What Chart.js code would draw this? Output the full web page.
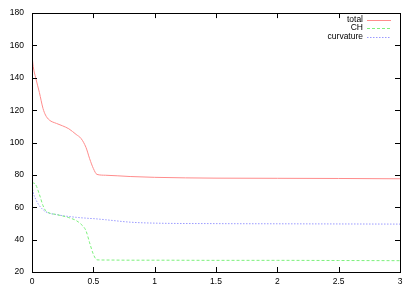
<!DOCTYPE html>
<html>
<head>
<meta charset="utf-8">
<script src="https://cdn.jsdelivr.net/npm/chart.js@4/dist/chart.umd.min.js"></script>
<style>
  html, body { margin: 0; padding: 0; background: #fff; }
  #wrap { width: 414px; height: 290px; }
</style>
</head>
<body>
<div id="wrap"><canvas id="c" width="414" height="290"></canvas></div>
<script>
// x positions sampled along the curves
const xVals = [0, 0.01, 0.03, 0.06, 0.09, 0.11, 0.14, 0.2, 0.25, 0.3, 0.36, 0.4, 0.44, 0.47, 0.5, 0.53, 0.6, 0.8, 1, 1.5, 2, 2.5, 3];

const totalVals = [154, 147, 140, 131, 121, 117, 114, 111.8, 110.3, 108.5, 105, 102.5, 97, 90, 84, 80.3, 79.8, 79, 78.5, 78, 77.9, 77.8, 77.6];
const chVals = [75, 75, 74, 68, 61, 58, 56.5, 55.5, 54.6, 53.6, 51.8, 49.5, 45.5, 38, 31, 27.5, 27.4, 27.3, 27.3, 27.2, 27.2, 27.1, 27];
const curvVals = [73, 69, 65, 61, 58.5, 57.3, 56.3, 55.5, 54.8, 54.3, 53.8, 53.5, 53.3, 53.1, 53, 52.8, 52.3, 50.8, 50.2, 49.9, 49.8, 49.7, 49.6];

const seriesNames = ['total', 'CH', 'curvature'];
const xTicks = [0, 0.5, 1, 1.5, 2, 2.5, 3];
const yTicks = [20, 40, 60, 80, 100, 120, 140, 160, 180];

const FONT = '"Liberation Sans", Arial, sans-serif';
const FSIZE = 8.5;

const toPts = ys => ys.map((y, i) => ({ x: xVals[i], y }));

// gnuplot-like: ticks pointing inward on all four sides, plus a box
const borderTicks = {
  id: 'borderTicks',
  afterDraw(chart) {
    const { ctx, chartArea: a, scales } = chart;
    ctx.save();
    ctx.strokeStyle = '#000';
    ctx.lineWidth = 1;
    ctx.strokeRect(Math.round(a.left) + 0.5, Math.round(a.top) + 0.5,
      Math.round(a.right - a.left), Math.round(a.bottom - a.top));
    ctx.beginPath();
    xTicks.forEach(v => {
      const px = Math.round(scales.x.getPixelForValue(v)) + 0.5;
      ctx.moveTo(px, a.bottom); ctx.lineTo(px, a.bottom - 5);
      ctx.moveTo(px, a.top); ctx.lineTo(px, a.top + 5);
    });
    yTicks.forEach(v => {
      const py = Math.round(scales.y.getPixelForValue(v)) + 0.5;
      ctx.moveTo(a.left, py); ctx.lineTo(a.left + 5, py);
      ctx.moveTo(a.right, py); ctx.lineTo(a.right - 5, py);
    });
    ctx.stroke();

    // key in the top right corner, text left of the line sample
    ctx.font = FSIZE + 'px ' + FONT;
    ctx.textAlign = 'right';
    ctx.textBaseline = 'middle';
    chart.data.datasets.forEach((ds, i) => {
      const y = a.top + 6.5 + i * 8.5;
      ctx.fillStyle = '#000';
      ctx.fillText(ds.label, a.right - 37, y);
      ctx.strokeStyle = ds.borderColor;
      ctx.setLineDash(ds.borderDash || []);
      ctx.beginPath();
      ctx.moveTo(a.right - 33, Math.round(y) + 0.5);
      ctx.lineTo(a.right - 9, Math.round(y) + 0.5);
      ctx.stroke();
    });
    ctx.restore();
  }
};

new Chart(document.getElementById('c'), {
  type: 'line',
  data: {
    datasets: [
      {
        label: seriesNames[0],
        data: toPts(totalVals),
        borderColor: '#ff8c8c',
        borderWidth: 1,
        pointRadius: 0,
        cubicInterpolationMode: 'monotone'
      },
      {
        label: seriesNames[1],
        data: toPts(chVals),
        borderColor: '#7cf07c',
        borderWidth: 1,
        borderDash: [3, 2],
        pointRadius: 0,
        cubicInterpolationMode: 'monotone'
      },
      {
        label: seriesNames[2],
        data: toPts(curvVals),
        borderColor: '#9a9aff',
        borderWidth: 1,
        borderDash: [1.5, 1.5],
        pointRadius: 0,
        cubicInterpolationMode: 'monotone'
      }
    ]
  },
  options: {
    responsive: false,
    animation: false,
    devicePixelRatio: 1,
    layout: { padding: { top: 10, right: 14, left: 0, bottom: 0 } },
    plugins: { legend: { display: false }, tooltip: { enabled: false } },
    scales: {
      x: {
        type: 'linear',
        min: 0, max: 3,
        afterBuildTicks: s => { s.ticks = xTicks.map(v => ({ value: v })); },
        afterFit: s => { s.height = 18; },
        grid: { display: false, drawTicks: false },
        border: { display: false },
        ticks: {
          color: '#000', font: { family: FONT, size: FSIZE }, padding: 5, maxRotation: 0,
          callback: v => String(v)
        }
      },
      y: {
        min: 20, max: 180,
        afterBuildTicks: s => { s.ticks = yTicks.map(v => ({ value: v })); },
        afterFit: s => { s.width = 32; },
        grid: { display: false, drawTicks: false },
        border: { display: false },
        ticks: { color: '#000', font: { family: FONT, size: FSIZE }, padding: 8, callback: v => String(v) }
      }
    }
  },
  plugins: [borderTicks]
});
</script>
</body>
</html>
